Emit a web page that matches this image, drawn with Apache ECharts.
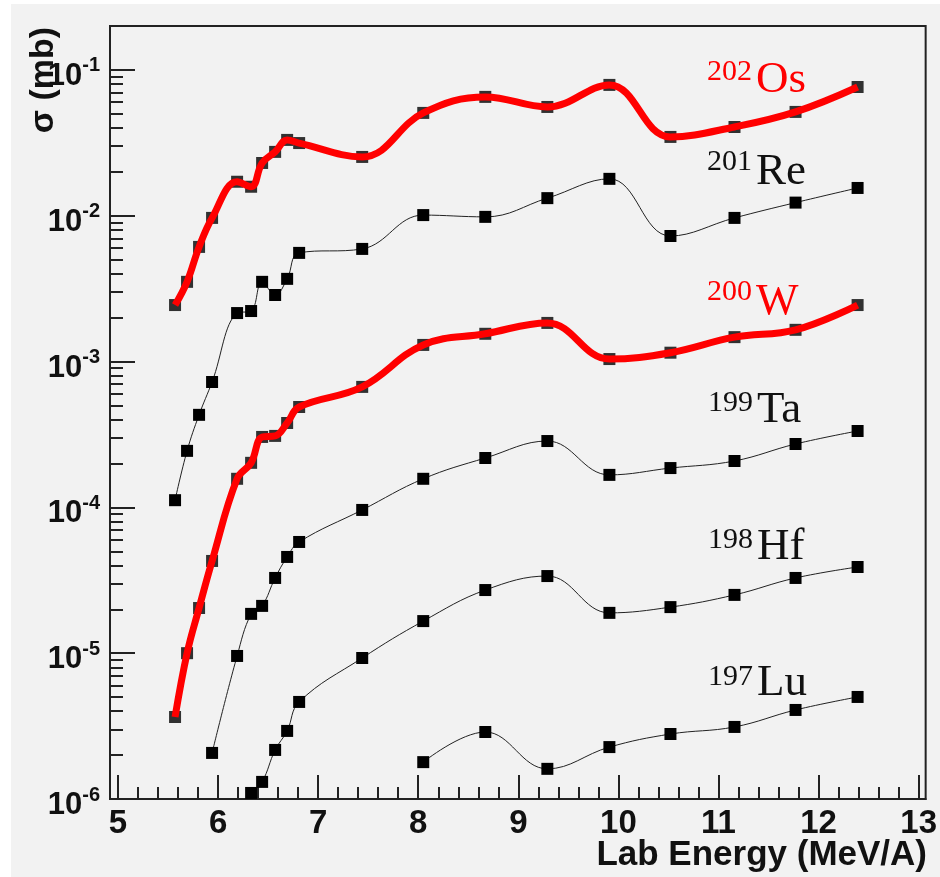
<!DOCTYPE html>
<html><head><meta charset="utf-8">
<script src="https://cdn.jsdelivr.net/npm/echarts@6/dist/echarts.min.js"></script>
<style>
html,body{margin:0;padding:0;background:#fff;width:940px;height:877px;overflow:hidden}
#c{position:absolute;left:11px;top:4px;width:929px;height:873px;background:#f2f2f2}
</style>
</head><body><div id="c"></div>
<script>
// Lab energies (MeV/A) shared by all series
const energy = [5.57, 5.69, 5.81, 5.94, 6.19, 6.33, 6.44, 6.57, 6.69, 6.81, 7.44, 8.05, 8.67, 9.29, 9.91, 10.52, 11.16, 11.77, 12.39];
// cross sections (mb)
const os202 = [2.44e-3, 3.52e-3, 6.11e-3, 9.66e-3, 0.0171, 0.0158, 0.0230, 0.0274, 0.0331, 0.0315, 0.0253, 0.0507, 0.0653, 0.0557, 0.0789, 0.0347, 0.0406, 0.0515, 0.0763];
const re201 = [1.12e-4, 2.44e-4, 4.31e-4, 7.24e-4, 2.15e-3, 2.22e-3, 3.52e-3, 2.86e-3, 3.69e-3, 5.56e-3, 5.92e-3, 0.0101, 9.82e-3, 0.0132, 0.0179, 7.26e-3, 9.66e-3, 0.0123, 0.0155];
const w200 = [3.65e-6, 1.0e-5, 2.04e-5, 4.29e-5, 1.57e-4, 2.02e-4, 3.04e-4, 3.09e-4, 3.79e-4, 4.88e-4, 6.70e-4, 1.30e-3, 1.55e-3, 1.84e-3, 1.04e-3, 1.15e-3, 1.47e-3, 1.65e-3, 2.44e-3];
const ta199 = [2.07e-6, 9.57e-6, 1.86e-5, 2.11e-5, 3.28e-5, 4.57e-5, 5.79e-5, 9.6e-5, 1.57e-4, 2.18e-4, 2.85e-4, 1.67e-4, 1.86e-4, 2.08e-4, 2.72e-4, 3.34e-4];   // from energy[3]
const hf198 = [1.10e-6, 1.31e-6, 2.17e-6, 2.93e-6, 4.63e-6, 9.27e-6, 1.66e-5, 2.71e-5, 3.38e-5, 1.89e-5, 2.07e-5, 2.51e-5, 3.28e-5, 3.90e-5];            // from energy[5]
const lu197 = [1.79e-6, 2.88e-6, 1.61e-6, 2.27e-6, 2.79e-6, 3.12e-6, 4.08e-6, 5.01e-6];                                                                 // from energy[11]

const xTicks = [5, 6, 7, 8, 9, 10, 11, 12, 13];
const yTicks = [1e-6, 1e-5, 1e-4, 1e-3, 1e-2, 1e-1];

const xMinor = [];
for (let i = 0; i <= 40; i++) { if (i % 5) xMinor.push(+(5 + i * 0.2).toFixed(2)); }
const yMinor = [];
for (let e = -6; e <= -1; e++) for (let k = 2; k <= 9; k++) { const v = +(k * Math.pow(10, e)).toPrecision(3); if (v <= 0.2000001) yMinor.push(v); }

function pts(vals, start) { return vals.map((v, i) => [energy[start + i], v]); }

const RED = '#ff0000', INK = '#111';
const sans = '"Liberation Sans", Arial, sans-serif';
const serif = '"Liberation Serif", "Times New Roman", serif';

function blackSeries(vals, start) {
  return { type: 'line', data: pts(vals, start), smooth: 0.4, symbol: 'rect', symbolSize: 12,
    itemStyle: { color: '#000' }, lineStyle: { color: '#222', width: 1 }, z: 3 };
}
function redSeries(vals, start) {
  return [
    { type: 'scatter', data: pts(vals, start), symbol: 'rect', symbolSize: 12, itemStyle: { color: '#000' }, z: 2 },
    { type: 'line', data: pts(vals, start), smooth: 0.4, showSymbol: false, lineStyle: { color: RED, width: 7 }, z: 4 }
  ];
}

// annotation layout (page pixels): left edge, main baseline, superscript baseline
const labels = [
  { sup: '202', el: 'Os', color: RED, x: 707, base: 95, supBase: 82 },
  { sup: '201', el: 'Re', color: INK, x: 707, base: 187, supBase: 172 },
  { sup: '200', el: 'W',  color: RED, x: 707, base: 317, supBase: 302 },
  { sup: '199', el: 'Ta', color: INK, x: 708, base: 425, supBase: 413 },
  { sup: '198', el: 'Hf', color: INK, x: 708, base: 562, supBase: 550 },
  { sup: '197', el: 'Lu', color: INK, x: 708, base: 698, supBase: 687 }
];
const OX = 11, OY = 4, SUPF = 30, MAINF = 45;
const graphics = [];
labels.forEach(l => {
  graphics.push({ type: 'text', x: l.x - OX, y: l.supBase - 0.3375 * SUPF - OY, z: 10,
    style: { text: l.sup, font: SUPF + 'px ' + serif, fill: l.color, align: 'left', verticalAlign: 'middle', textAlign: 'left', textVerticalAlign: 'middle' } });
  graphics.push({ type: 'text', x: l.x + 49 - OX, y: l.base - 0.3375 * MAINF - OY, z: 10,
    style: { text: l.el, font: MAINF + 'px ' + serif, fill: l.color, align: 'left', verticalAlign: 'middle', textAlign: 'left', textVerticalAlign: 'middle' } });
});
graphics.push({ type: 'text', x: 44 - OX, y: 80 - OY, rotation: Math.PI / 2, z: 10,
  style: { text: 'σ (mb)', font: 'bold 34px ' + sans, fill: INK, align: 'center', verticalAlign: 'middle', textAlign: 'center', textVerticalAlign: 'middle' } });
graphics.push({ type: 'text', x: 927 - OX, y: 855 - OY, z: 10,
  style: { text: 'Lab Energy (MeV/A)', font: 'bold 35px ' + sans, fill: INK, align: 'right', verticalAlign: 'middle', textAlign: 'right', textVerticalAlign: 'middle' } });

const axisCol = '#222';
const chart = echarts.init(document.getElementById('c'), null, { renderer: 'canvas' });
chart.setOption({
  animation: false,
  backgroundColor: '#f2f2f2',
  grid: { left: 99, right: 8, top: 22, bottom: 78, show: true, borderColor: axisCol, borderWidth: 2, backgroundColor: 'transparent' },
  xAxis: [
    { type: 'value', min: 4.92, max: 13.07, position: 'bottom',
      axisLine: { lineStyle: { color: axisCol, width: 2 } },
      axisTick: { inside: true, length: 24, customValues: xTicks, lineStyle: { color: axisCol, width: 2 } },
      axisLabel: { customValues: xTicks, margin: 8, fontSize: 33, fontWeight: 'bold', color: INK, fontFamily: sans },
      splitLine: { show: false } },
    { type: 'value', min: 4.92, max: 13.07, position: 'bottom',
      axisLine: { show: false },
      axisTick: { inside: true, length: 12, customValues: xMinor, lineStyle: { color: axisCol, width: 2 } },
      axisLabel: { show: false }, splitLine: { show: false } }
  ],
  yAxis: [
    { type: 'log', logBase: 10, min: 1e-6, max: 0.2, position: 'left',
      axisLine: { lineStyle: { color: axisCol, width: 2 } },
      axisTick: { inside: true, length: 25, customValues: yTicks, lineStyle: { color: axisCol, width: 2 } },
      axisLabel: { customValues: yTicks, margin: 10, padding: [8, 0, 0, 0],
        formatter: v => '{b|10}{e|' + Math.round(Math.log10(v)) + '}',
        rich: { b: { fontSize: 31, fontWeight: 'bold', color: INK, fontFamily: sans, lineHeight: 36, verticalAlign: 'bottom' },
                e: { fontSize: 20, fontWeight: 'bold', color: INK, fontFamily: sans, lineHeight: 20, verticalAlign: 'top' } } },
      splitLine: { show: false } },
    { type: 'log', logBase: 10, min: 1e-6, max: 0.2, position: 'left',
      axisLine: { show: false },
      axisTick: { inside: true, length: 13, customValues: yMinor, lineStyle: { color: axisCol, width: 2 } },
      axisLabel: { show: false }, splitLine: { show: false } }
  ],
  series: [
    ...redSeries(os202, 0),
    blackSeries(re201, 0),
    ...redSeries(w200, 0),
    blackSeries(ta199, 3),
    blackSeries(hf198, 5),
    blackSeries(lu197, 11)
  ],
  graphic: graphics
});
</script>
</body></html>
